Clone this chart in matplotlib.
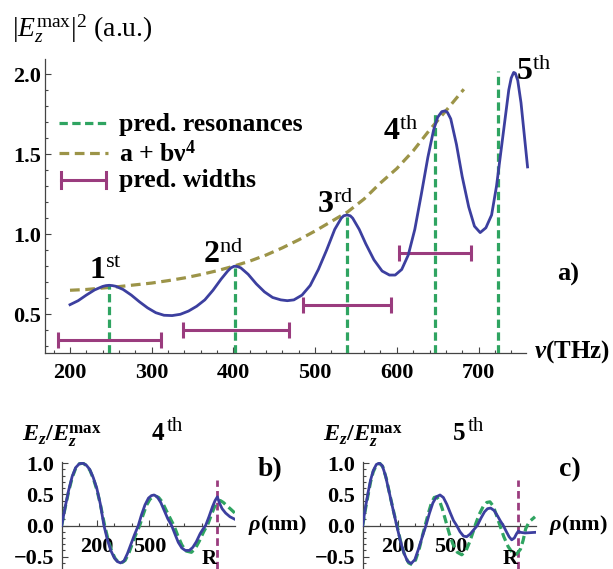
import matplotlib
matplotlib.use("Agg")
import matplotlib.pyplot as plt
from matplotlib.lines import Line2D
from matplotlib.ticker import FixedLocator

# ---------------- data ----------------
# main spectrum |E_z^max|^2 vs frequency (THz)
nu = [200, 210, 220, 230, 240, 244, 248, 252, 256, 265, 275, 285, 295, 305, 315, 325,
      335, 345, 355, 365, 375, 385, 393, 397, 401, 405, 409, 418, 428, 438, 448, 458,
      466, 474, 484, 494, 504, 514, 524, 532, 535, 539, 543, 546, 554, 562, 572, 582,
      591, 598, 606, 614, 622, 630, 638, 645, 650, 655, 659, 662, 666, 673, 680, 688,
      695, 702, 709, 716, 722, 727, 732, 737, 740, 743, 745, 748, 752, 756, 760]
E2 = [0.56, 0.585, 0.62, 0.652, 0.674, 0.679, 0.681, 0.679, 0.675, 0.655, 0.62, 0.578,
      0.54, 0.51, 0.494, 0.492, 0.50, 0.52, 0.55, 0.59, 0.65, 0.72, 0.77, 0.79, 0.80,
      0.798, 0.79, 0.75, 0.69, 0.64, 0.605, 0.59, 0.585, 0.59, 0.62, 0.68, 0.78, 0.90,
      1.03, 1.10, 1.115, 1.12, 1.115, 1.10, 1.03, 0.94, 0.84, 0.77, 0.745, 0.745, 0.78,
      0.87, 1.03, 1.25, 1.48, 1.65, 1.73, 1.765, 1.77, 1.76, 1.72, 1.56, 1.36, 1.17,
      1.05, 1.01, 1.04, 1.12, 1.30, 1.50, 1.70, 1.90, 1.975, 2.01, 2.005, 1.96, 1.82,
      1.62, 1.42]

# fit curve a + b nu^4
fit_nu = [200, 220, 240, 260, 280, 300, 320, 340, 360, 380, 400, 420, 440, 460, 480,
          500, 520, 540, 560, 580, 600, 620, 640, 660, 682]
fit_E2 = [0.650, 0.655, 0.664, 0.673, 0.684, 0.695, 0.710, 0.727, 0.748, 0.772, 0.800,
          0.832, 0.870, 0.915, 0.965, 1.020, 1.080, 1.140, 1.220, 1.320, 1.410, 1.520,
          1.650, 1.770, 1.905]

# predicted resonances (THz) and the height of their marker lines
res_nu = [248, 402, 539, 647, 724]
res_top = [0.68, 0.80, 1.12, 1.77, 2.02]

# predicted widths: centre, half-width, plotted height
w_center = [248, 403, 539, 647]
w_half = [63, 65, 54, 44]
w_level = [0.34, 0.40, 0.555, 0.88]

ordinals = ["1", "2", "3", "4", "5"]
suffixes = ["st", "nd", "rd", "th", "th"]

# field profiles, panel b (4th resonance)
rho_b = [0, 20, 40, 60, 80, 100, 120, 140, 160, 180, 200, 220, 241, 260, 280, 300, 318,
         336, 355, 375, 395, 415, 437, 455, 475, 495, 512, 527, 545, 565, 585, 605, 627,
         645, 665, 685, 705, 728, 748, 768, 790, 810, 821, 840, 860, 875, 888, 900, 915,
         935, 960, 988]
Eb_sim = [0.00, 0.30, 0.57, 0.79, 0.93, 0.99, 1.00, 0.97, 0.90, 0.77, 0.60, 0.35, 0.00,
          -0.22, -0.40, -0.52, -0.58, -0.60, -0.57, -0.45, -0.30, -0.15, 0.00, 0.17, 0.33,
          0.44, 0.48, 0.49, 0.46, 0.37, 0.24, 0.11, 0.00, -0.13, -0.27, -0.36, -0.40,
          -0.40, -0.35, -0.26, -0.13, -0.04, 0.00, 0.14, 0.30, 0.40, 0.46, 0.36, 0.27,
          0.20, 0.14, 0.10]
rho_b2 = [0, 20, 40, 60, 80, 100, 122, 142, 162, 182, 202, 222, 245, 265, 285, 305, 324,
          342, 362, 382, 402, 422, 445, 463, 483, 503, 520, 535, 553, 573, 595, 618, 640,
          662, 685, 710, 740, 762, 785, 810, 835, 855, 872, 888, 905, 922, 945, 965, 988]
Eb_pred = [0.00, 0.29, 0.55, 0.77, 0.92, 0.99, 1.00, 0.96, 0.88, 0.74, 0.56, 0.32, 0.00,
           -0.23, -0.41, -0.53, -0.59, -0.60, -0.56, -0.45, -0.30, -0.15, 0.00, 0.16,
           0.32, 0.42, 0.46, 0.47, 0.45, 0.38, 0.25, 0.12, 0.00, -0.16, -0.31, -0.41,
           -0.43, -0.37, -0.25, -0.10, 0.03, 0.18, 0.30, 0.38, 0.40, 0.37, 0.31, 0.26,
           0.20]

# field profiles, panel c (5th resonance)
rho_c = [0, 15, 30, 45, 60, 78, 95, 112, 130, 150, 172, 194, 215, 235, 255, 276, 297,
         318, 340, 361, 380, 400, 420, 441, 460, 480, 500, 518, 536, 555, 575, 593, 612,
         633, 654, 675, 695, 712, 730, 750, 770, 786, 802, 818, 835, 850, 865, 878, 888,
         900, 926, 955, 983]
Ec_sim = [0.00, 0.28, 0.52, 0.73, 0.88, 0.98, 1.00, 0.96, 0.80, 0.55, 0.27, 0.00, -0.25,
          -0.44, -0.57, -0.61, -0.55, -0.38, -0.18, 0.00, 0.19, 0.36, 0.46, 0.49, 0.45,
          0.34, 0.20, 0.08, 0.00, -0.10, -0.17, -0.18, -0.14, -0.07, 0.00, 0.12, 0.22,
          0.27, 0.28, 0.24, 0.15, 0.07, 0.00, -0.09, -0.18, -0.23, -0.20, -0.13, -0.09,
          -0.11, -0.12, -0.115, -0.11]
rho_c2 = [0, 15, 30, 45, 60, 78, 97, 115, 135, 155, 180, 200, 220, 240, 262, 283, 302,
          322, 342, 358, 375, 392, 408, 422, 438, 455, 475, 495, 515, 540, 565, 590, 612,
          630, 645, 665, 688, 708, 726, 745, 765, 783, 805, 830, 855, 878, 900, 915, 930,
          950, 983]
Ec_pred = [0.00, 0.25, 0.48, 0.70, 0.86, 0.97, 1.00, 0.94, 0.75, 0.49, 0.18, -0.05,
           -0.30, -0.48, -0.60, -0.63, -0.55, -0.38, -0.15, 0.02, 0.20, 0.36, 0.45, 0.46,
           0.40, 0.26, 0.06, -0.14, -0.30, -0.43, -0.47, -0.40, -0.25, -0.10, 0.03, 0.18,
           0.31, 0.37, 0.38, 0.31, 0.15, 0.00, -0.18, -0.34, -0.44, -0.46, -0.38, -0.24,
           -0.05, 0.06, 0.14]
R_rho = 888

# ---------------- style ----------------
W, H = 613, 569
plt.rcParams.update({
    "font.family": ["Liberation Serif", "DejaVu Serif"],
    "mathtext.fontset": "custom",
    "mathtext.rm": "Liberation Serif",
    "mathtext.it": "Liberation Serif:italic",
    "mathtext.bf": "Liberation Serif:bold",
    "mathtext.bfit": "Liberation Serif:italic:bold",
    "lines.scale_dashes": False,
    "axes.unicode_minus": True,
})
BLUE = "#3c3f9f"
GREEN = "#2fa461"
GOLD = "#9c9448"
PURPLE = "#9a3c7e"
AXC = "#444444"

fig = plt.figure(figsize=(W / 100, H / 100), dpi=100)


def fx(x):
    return x / W


def fy(y):
    return 1 - y / H


def style_axes(ax, fs):
    for s in ("top", "right"):
        ax.spines[s].set_visible(False)
    for s in ("left", "bottom"):
        ax.spines[s].set_color(AXC)
        ax.spines[s].set_linewidth(0.9)
    ax.tick_params(which="both", direction="in", color=AXC, width=0.8,
                   labelsize=fs)
    ax.tick_params(which="major", length=4)
    ax.tick_params(which="minor", length=2.5)
    for lab in ax.get_xticklabels() + ax.get_yticklabels():
        lab.set_fontweight("bold")


# ---------------- main panel a ----------------
ax = fig.add_axes([fx(45), fy(353), (526 - 45) / W, (353 - 59) / H])
ax.set_xlim(169.4, 758.1)
ax.set_ylim(0.2584, 2.0937)
ax.patch.set_alpha(0)

ax.plot(fit_nu, fit_E2, color=GOLD, lw=2.3, dashes=(7, 4), zorder=2)
for xv, top in zip(res_nu, res_top):
    ax.plot([xv, xv], [0.2584, top], color=GREEN, lw=2.3, dashes=(6, 3.2), zorder=3)
ax.errorbar(w_center, w_level, xerr=w_half, fmt="none", ecolor=PURPLE,
            elinewidth=2.2, capsize=6, capthick=2.2, zorder=3)
ax.plot(nu, E2, color=BLUE, lw=2.0, zorder=4, solid_joinstyle="round",
        clip_on=False)

ax.xaxis.set_major_locator(FixedLocator([200, 300, 400, 500, 600, 700]))
ax.xaxis.set_minor_locator(FixedLocator(list(range(180, 760, 20))))
ax.yaxis.set_major_locator(FixedLocator([0.5, 1.0, 1.5, 2.0]))
ax.yaxis.set_minor_locator(FixedLocator([v / 10 for v in range(3, 21)]))
ax.set_xticklabels(["200", "300", "400", "500", "600", "700"])
ax.set_yticklabels(["0.5", "1.0", "1.5", "2.0"])
style_axes(ax, 16)
ax.tick_params(axis="x", pad=7)
ax.tick_params(axis="y", pad=3)

# ordinal labels (left x, baseline y in pixels)
ord_pos = [(89, 279), (203, 263), (317, 213), (383, 140), (516, 80)]
for (px, py), o, s in zip(ord_pos, ordinals, suffixes):
    fig.text(fx(px), fy(py), r"$\mathbf{%s}^{\mathrm{%s}}$" % (o, s),
             fontsize=23, va="baseline", ha="left")

fig.text(fx(12), fy(36), r"$|E_z^{\mathrm{max}}|^2$ (a.u.)",
         fontsize=20, va="baseline", ha="left")
fig.text(fx(534), fy(352), r"$\mathbfit{\nu}$(THz)", fontsize=18,
         fontweight="bold", va="center", ha="left")
fig.text(fx(557), fy(281), "a)", fontsize=19, fontweight="bold",
         va="baseline", ha="left")

# legend (drawn by hand in figure pixels)
leg_rows = [123, 153, 180]
fig.add_artist(Line2D([fx(59), fx(108)], [fy(leg_rows[0])] * 2, color=GREEN,
                      lw=2.3, dashes=(6, 3.2)))
fig.add_artist(Line2D([fx(59), fx(108)], [fy(leg_rows[1])] * 2, color=GOLD,
                      lw=2.3, dashes=(7, 4)))
fig.add_artist(Line2D([fx(61), fx(106)], [fy(leg_rows[2])] * 2, color=PURPLE,
                      lw=2.2))
for xc in (61, 106):
    fig.add_artist(Line2D([fx(xc)] * 2, [fy(leg_rows[2] - 8), fy(leg_rows[2] + 8)],
                          color=PURPLE, lw=2.2))
leg_txt = ["pred. resonances", r"a + b$\mathbf{\nu}^{\mathbf{4}}$", "pred. widths"]
for yy, t in zip(leg_rows, leg_txt):
    fig.text(fx(119), fy(yy + 1), t, fontsize=18.5, fontweight="bold",
             va="center", ha="left")


# ---------------- bottom panels ----------------
def field_panel(left, rho1, e1, rho2, e2, ordinal, tag):
    bx = fig.add_axes([fx(left), 0, 173.3 / W, (569 - 461.7) / H])
    bx.set_xlim(0, 988.6)
    bx.set_ylim(-0.698, 1.024)
    bx.patch.set_alpha(0)
    bx.spines["bottom"].set_position(("data", 0))
    bx.plot(rho2, e2, color=GREEN, lw=2.3, dashes=(6, 3.2), zorder=3)
    bx.plot(rho1, e1, color=BLUE, lw=2.0, zorder=4)
    bx.plot([R_rho, R_rho], [-0.698, 0.73], color=PURPLE, lw=2.0,
            dashes=(5.5, 3), zorder=2)
    bx.xaxis.set_major_locator(FixedLocator([200, 500]))
    bx.xaxis.set_minor_locator(FixedLocator([100, 300, 400, 600, 700, 800, 900]))
    bx.set_xticklabels(["200", "500"])
    bx.yaxis.set_major_locator(FixedLocator([-0.5, 0.0, 0.5, 1.0]))
    bx.yaxis.set_minor_locator(FixedLocator([v / 10 for v in range(-6, 11)]))
    bx.set_yticklabels(["\u22120.5", "0.0", "0.5", "1.0"])
    style_axes(bx, 16)
    bx.tick_params(axis="x", pad=8)
    bx.tick_params(axis="y", pad=5.5)
    for lab in bx.get_xticklabels():
        lab.set_zorder(5)
    fig.text(fx(left - 40), fy(441),
             r"$\mathbfit{E}_{\mathbfit{z}}\mathbf{/}\mathbfit{E}_{\mathbfit{z}}^{\mathbf{max}}$",
             fontsize=17.5, va="baseline", ha="left")
    fig.text(fx(left + 90), fy(440), ordinal, fontsize=18, fontweight="bold",
             va="baseline", ha="left")
    fig.text(fx(left + 105), fy(431), "th", fontsize=15, va="baseline", ha="left")
    fig.text(fx(left + 196), fy(476), tag, fontsize=20, fontweight="bold",
             va="baseline", ha="left")
    fig.text(fx(left + 186), fy(525), r"$\mathbfit{\rho}$(nm)", fontsize=16,
             fontweight="bold", va="center", ha="left")
    fig.text(fx(left + 147), fy(568.5), "R", fontsize=15, fontweight="bold",
             va="bottom", ha="center")
    return bx


field_panel(61.7, rho_b, Eb_sim, rho_b2, Eb_pred, "4", "b)")
field_panel(362.7, rho_c, Ec_sim, rho_c2, Ec_pred, "5", "c)")

fig.savefig("out.png", dpi=100)
